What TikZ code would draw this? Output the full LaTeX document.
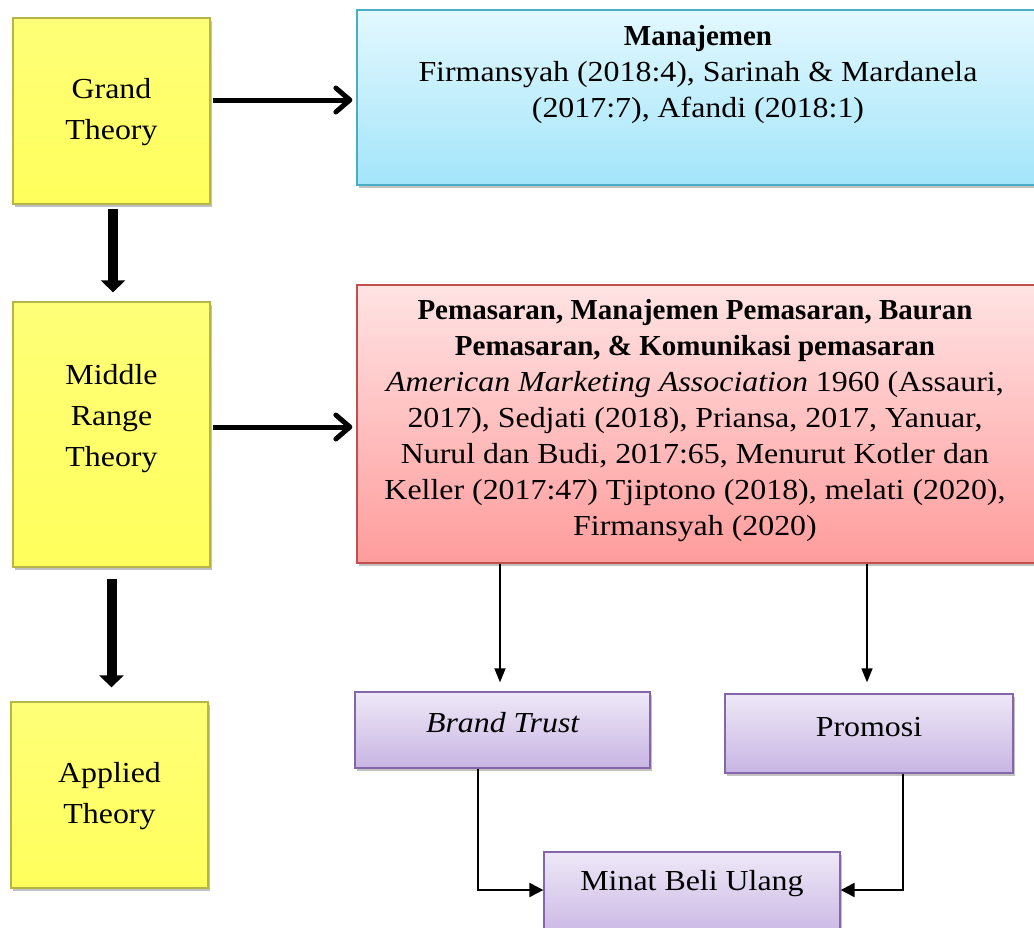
\documentclass[tikz,border=0pt]{standalone}
\usepackage{fontspec}
\setmainfont{Liberation Serif}[FakeStretch=1.1]
\newfontfamily\plainserif{Liberation Serif}
\newcommand{\hdr}[1]{{\plainserif\bfseries #1}}
\usetikzlibrary{arrows.meta,shadows}
\definecolor{yeltop}{HTML}{FFFF78}
\definecolor{yelbot}{HTML}{FFFF5C}
\definecolor{yelborder}{HTML}{B5B54A}
\definecolor{bluetop}{HTML}{E3F8FF}
\definecolor{bluebot}{HTML}{A3E5FA}
\definecolor{blueborder}{HTML}{4BACC6}
\definecolor{redtop}{HTML}{FFE3E3}
\definecolor{redbot}{HTML}{FF9C9C}
\definecolor{redborder}{HTML}{C0504D}
\definecolor{purtop}{HTML}{EEE8F7}
\definecolor{purbot}{HTML}{C8B5E3}
\definecolor{purborder}{HTML}{8566A8}
\begin{document}
\begin{tikzpicture}[x=1pt,y=-1pt,
  box/.style={rectangle, inner sep=0pt, line width=1.3pt,
    drop shadow={shadow xshift=2pt, shadow yshift=-3pt, opacity=0.35, fill=black!70}},
  yellowbox/.style={box, draw=yelborder, top color=yeltop, bottom color=yelbot, minimum width=197pt},
  bluebox/.style={box, draw=blueborder, top color=bluetop, bottom color=bluebot},
  redbox/.style={box, draw=redborder, top color=redtop, bottom color=redbot},
  purbox/.style={box, draw=purborder, top color=purtop, bottom color=purbot},
  txt/.style={align=center, inner sep=0pt, font={\fontsize{29}{36}\selectfont}},
  ytxt/.style={align=center, inner sep=0pt, font={\fontsize{29}{41}\selectfont}},
  ptxt/.style={align=center, inner sep=0pt, font={\fontsize{29}{36}\selectfont}},
  harrow/.style={line width=5pt, -{Straight Barb[length=14pt,width=24pt,round]}},
  varrow/.style={line width=10pt, -{Triangle[length=12pt,width=24pt]}},
  thinarrow/.style={line width=1.6pt, -{Triangle[length=14pt,width=11pt]}},
  joinarrow/.style={line width=2.2pt, -{Triangle[length=14pt,width=14pt]}}
]
\useasboundingbox (0,0) rectangle (1034,927);
\clip (0,0) rectangle (1034,927);

% left column
\node[yellowbox, minimum height=186pt] (grand) at (111.5,111) {};
\node[ytxt] (grandt) at (111.5,112) {Grand\\Theory};
\node[yellowbox, minimum height=265pt] (middle) at (111.5,434.5) {};
\node[ytxt] (middlet) at (111.5,419) {Middle\\Range\\Theory};
\node[yellowbox, minimum height=186pt] (applied) at (109.5,795) {};
\node[ytxt] (appliedt) at (109.5,796) {Applied\\Theory};

% right column
\node[bluebox, minimum width=690pt, minimum height=175pt] (blue) at (702,97.5) {};
\node[txt] (bluet) at (698,75) {\hdr{Manajemen}\\Firmansyah (2018:4), Sarinah \& Mardanela\\(2017:7), Afandi (2018:1)};

\node[redbox, minimum width=690pt, minimum height=278pt] (red) at (702,424) {};
\node[txt] (redt) at (695,421) {\hdr{Pemasaran, Manajemen Pemasaran, Bauran}\\
\hdr{Pemasaran, \& Komunikasi pemasaran}\\
\textit{American Marketing Association} 1960 (Assauri,\\
2017), Sedjati (2018), Priansa, 2017, Yanuar,\\
Nurul dan Budi, 2017:65, Menurut Kotler dan\\
Keller (2017:47) Tjiptono (2018), melati (2020),\\
Firmansyah (2020)};

\node[purbox, minimum width=295pt, minimum height=76pt] (brand) at (502.5,730) {};
\node[ptxt] (brandt) at (503,723) {\textit{Brand Trust}};
\node[purbox, minimum width=288pt, minimum height=79pt] (promo) at (869,733.5) {};
\node[ptxt] (promot) at (869,727) {Promosi};
\node[purbox, minimum width=296pt, minimum height=88pt] (minat) at (692,896) {};
\node[ptxt] (minatt) at (692,884) {Minat Beli Ulang};

% connectors
\draw[harrow, shorten <=2pt, shorten >=4pt] ([yshift=11pt]grand.east) -- ([yshift=11pt]grand.east -| blue.west);
\draw[harrow, shorten <=2pt, shorten >=4pt] ([yshift=7.5pt]middle.east) -- ([yshift=7.5pt]middle.east -| red.west);
\draw[varrow, shorten <=4pt, shorten >=9pt] ([xshift=1.5pt]grand.south) -- ([xshift=1.5pt]grand.south |- middle.north);
\draw[varrow, shorten <=11pt, shorten >=14pt] (middle.south) -- (middle.south |- applied.north);
\draw[thinarrow, shorten >=9pt] ([xshift=-2.5pt]brand.north |- red.south) -- ([xshift=-2.5pt]brand.north);
\draw[thinarrow, shorten >=11pt] ([xshift=-2pt]promo.north |- red.south) -- ([xshift=-2pt]promo.north);
\draw[joinarrow] ([xshift=-24.5pt]brand.south) |- ([yshift=6pt]minat.west);
\draw[joinarrow] ([xshift=34pt]promo.south) |- ([yshift=6pt]minat.east);
\end{tikzpicture}
\end{document}
